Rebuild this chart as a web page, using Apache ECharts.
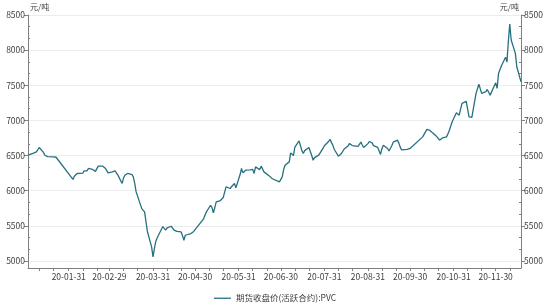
<!DOCTYPE html>
<html><head><meta charset="utf-8">
<script src="https://cdn.jsdelivr.net/npm/echarts@6/dist/echarts.min.js"></script>
<style>html,body{margin:0;padding:0;background:#fff}#c{width:550px;height:304px}</style>
</head><body><div id="c"></div>
<script>
const seriesName = '期货收盘价(活跃合约):PVC';
const unitName = '元/吨';
const dates = [
'2020-01-02','2020-01-03','2020-01-06','2020-01-07','2020-01-08','2020-01-09','2020-01-10','2020-01-13','2020-01-14','2020-01-15',
'2020-01-16','2020-01-17','2020-01-20','2020-01-21','2020-01-22','2020-01-23','2020-02-03','2020-02-04','2020-02-05','2020-02-06',
'2020-02-07','2020-02-10','2020-02-11','2020-02-12','2020-02-13','2020-02-14','2020-02-17','2020-02-18','2020-02-19','2020-02-20',
'2020-02-21','2020-02-24','2020-02-25','2020-02-26','2020-02-27','2020-02-28','2020-03-02','2020-03-03','2020-03-04','2020-03-05',
'2020-03-06','2020-03-09','2020-03-10','2020-03-11','2020-03-12','2020-03-13','2020-03-16','2020-03-17','2020-03-18','2020-03-19',
'2020-03-20','2020-03-23','2020-03-24','2020-03-25','2020-03-26','2020-03-27','2020-03-30','2020-03-31','2020-04-01','2020-04-02',
'2020-04-03','2020-04-07','2020-04-08','2020-04-09','2020-04-10','2020-04-13','2020-04-14','2020-04-15','2020-04-16','2020-04-17',
'2020-04-20','2020-04-21','2020-04-22','2020-04-23','2020-04-24','2020-04-27','2020-04-28','2020-04-29','2020-04-30','2020-05-06',
'2020-05-07','2020-05-08','2020-05-11','2020-05-12','2020-05-13','2020-05-14','2020-05-15','2020-05-18','2020-05-19','2020-05-20',
'2020-05-21','2020-05-22','2020-05-25','2020-05-26','2020-05-27','2020-05-28','2020-05-29','2020-06-01','2020-06-02','2020-06-03',
'2020-06-04','2020-06-05','2020-06-08','2020-06-09','2020-06-10','2020-06-11','2020-06-12','2020-06-15','2020-06-16','2020-06-17',
'2020-06-18','2020-06-19','2020-06-22','2020-06-23','2020-06-24','2020-06-29','2020-06-30','2020-07-01','2020-07-02','2020-07-03',
'2020-07-06','2020-07-07','2020-07-08','2020-07-09','2020-07-10','2020-07-13','2020-07-14','2020-07-15','2020-07-16','2020-07-17',
'2020-07-20','2020-07-21','2020-07-22','2020-07-23','2020-07-24','2020-07-27','2020-07-28','2020-07-29','2020-07-30','2020-07-31',
'2020-08-03','2020-08-04','2020-08-05','2020-08-06','2020-08-07','2020-08-10','2020-08-11','2020-08-12','2020-08-13','2020-08-14',
'2020-08-17','2020-08-18','2020-08-19','2020-08-20','2020-08-21','2020-08-24','2020-08-25','2020-08-26','2020-08-27','2020-08-28',
'2020-08-31','2020-09-01','2020-09-02','2020-09-03','2020-09-04','2020-09-07','2020-09-08','2020-09-09','2020-09-10','2020-09-11',
'2020-09-14','2020-09-15','2020-09-16','2020-09-17','2020-09-18','2020-09-21','2020-09-22','2020-09-23','2020-09-24','2020-09-25',
'2020-09-28','2020-09-29','2020-09-30','2020-10-09','2020-10-12','2020-10-13','2020-10-14','2020-10-15','2020-10-16','2020-10-19',
'2020-10-20','2020-10-21','2020-10-22','2020-10-23','2020-10-26','2020-10-27','2020-10-28','2020-10-29','2020-10-30','2020-11-02',
'2020-11-03','2020-11-04','2020-11-05','2020-11-06','2020-11-09','2020-11-10','2020-11-11','2020-11-12','2020-11-13','2020-11-16',
'2020-11-17','2020-11-18','2020-11-19','2020-11-20','2020-11-23','2020-11-24','2020-11-25','2020-11-26','2020-11-27','2020-11-30',
'2020-12-01','2020-12-02','2020-12-03','2020-12-04','2020-12-07','2020-12-08','2020-12-09','2020-12-10','2020-12-11','2020-12-14',
'2020-12-15','2020-12-16','2020-12-17','2020-12-18'
];
const prices = [
6506,6520,6535,6510,6552,6525,6615,6545,6505,6490,
6484,6482,6482,6480,6476,6468,6160,6205,6230,6245,
6245,6250,6282,6280,6282,6316,6302,6290,6275,6268,
6349,6350,6345,6320,6290,6254,6268,6278,6282,6270,
6221,6103,6180,6221,6235,6245,6230,6197,6100,5983,
5960,5745,5720,5698,5560,5420,5200,5057,5180,5280,
5330,5490,5470,5440,5470,5494,5480,5440,5425,5420,
5413,5360,5295,5366,5375,5390,5405,5420,5440,5600,
5651,5698,5793,5761,5684,5760,5840,5860,5880,5903,
5980,6054,6031,6060,6085,6103,6040,6230,6316,6254,
6275,6292,6295,6300,6302,6245,6339,6300,6349,6310,
6268,6240,6207,6190,6170,6125,6150,6197,6300,6363,
6410,6538,6553,6500,6620,6709,6640,6570,6530,6570,
6615,6590,6500,6434,6470,6506,6538,6570,6601,6640,
6700,6730,6758,6648,6590,6491,6510,6525,6538,6590,
6640,6672,6665,6640,6624,6630,6634,6691,6650,6615,
6670,6700,6719,6680,6640,6615,6590,6516,6600,6648,
6600,6567,6600,6640,6690,6719,6681,6620,6580,6567,
6587,6590,6601,6766,6872,6866,6860,6840,6823,6770,
6743,6719,6730,6750,6766,6810,6861,6920,6980,7108,
7090,7075,7160,7242,7270,7286,7051,7048,7043,7384,
7450,7517,7450,7384,7410,7441,7400,7360,7370,7535,
7455,7669,7680,7773,7900,7830,8130,8370,8144,7954,
7763,7692,7620,7550
];
const yLabelValues = [5000,5500,6000,6500,7000,7500,8000,8500];
const xLabelDates = ['2020-01-31','2020-02-29','2020-03-31','2020-04-30','2020-05-31','2020-06-30','2020-07-31','2020-08-31','2020-09-30','2020-10-31','2020-11-30'];
const xStart = '2020-01-02', xEnd = '2020-12-18';

const DAY = 86400000;
function ts(s){const p=s.split('-').map(Number);return Date.UTC(p[0],p[1]-1,p[2]);}
function fmt(v){const d=new Date(Math.round(v/DAY)*DAY);const p=n=>String(n).padStart(2,'0');return String(d.getUTCFullYear()).slice(2)+'-'+p(d.getUTCMonth()+1)+'-'+p(d.getUTCDate());}

const minX = ts(xStart), maxX = ts(xEnd);
const xTicks = [];
for (let m=0;m<12;m++){
  const last = new Date(Date.UTC(2020,m+1,0)).getUTCDate();
  [10,20,last].forEach(d=>{const t=Date.UTC(2020,m,d); if(t>=minX&&t<=maxX) xTicks.push(t);});
}
const yMinor = [];
for (let i=0;i<yLabelValues.length-1;i++){const a=yLabelValues[i];yMinor.push(a+500/3,a+1000/3);}

const FF = '"Noto Sans CJK SC","Noto Sans",sans-serif';
const axisCol = '#808080';
const labCol = '#404040';

function yAx(pos){
  return {
    type:'value', position:pos, min:4900, max:8500, splitNumber:7,
    name: unitName, nameLocation:'end', nameGap:2,
    nameTextStyle:{fontFamily:FF,fontSize:8,color:labCol,align:pos==='left'?'left':'right',verticalAlign:'middle',padding:pos==='left'?[0,0,0,2]:[0,2,0,0]},
    axisLine:{show:true,lineStyle:{color:axisCol,width:1}},
    axisTick:{show:true,length:4,customValues:yLabelValues,lineStyle:{color:axisCol}},
    axisLabel:{fontFamily:FF,fontSize:8.5,color:labCol,margin:3,customValues:yLabelValues,formatter:v=>String(v)},
    splitLine:{show:pos==='left',lineStyle:{color:'#ececec',width:1}}
  };
}
function yMinorAx(pos){
  return {
    type:'value', position:pos, min:4900, max:8500, splitNumber:7,
    axisLine:{show:false},
    axisTick:{show:true,inside:true,length:2,customValues:yMinor,lineStyle:{color:axisCol}},
    axisLabel:{show:false}, splitLine:{show:false}
  };
}

const chart = echarts.init(document.getElementById('c'),null,{renderer:'canvas'});
chart.setOption({
  animation:false,
  backgroundColor:'#ffffff',
  grid:{left:28,right:29,top:15,bottom:36,containLabel:false},
  legend:{
    data:[seriesName], left:'center', top:289, icon:'rect', itemWidth:17, itemHeight:1.3, itemGap:5,
    textStyle:{fontFamily:FF,fontSize:8.5,color:labCol}
  },
  xAxis:{
    type:'value', min:minX, max:maxX, scale:true,
    axisLine:{show:true,lineStyle:{color:axisCol,width:1}},
    axisTick:{show:true,length:3,customValues:xTicks,lineStyle:{color:axisCol}},
    axisLabel:{fontFamily:FF,fontSize:8.5,color:labCol,margin:5,customValues:xLabelDates.map(ts),formatter:v=>fmt(v),hideOverlap:false},
    splitLine:{show:false}
  },
  yAxis:[yAx('left'),yAx('right'),yMinorAx('left'),yMinorAx('right')],
  series:[{
    name:seriesName, type:'line', yAxisIndex:0, symbol:'none', smooth:false,
    lineStyle:{color:'#27707f',width:1.3}, itemStyle:{color:'#27707f'},
    data:dates.map((d,i)=>[ts(d),prices[i]])
  }]
});
</script>
</body></html>
